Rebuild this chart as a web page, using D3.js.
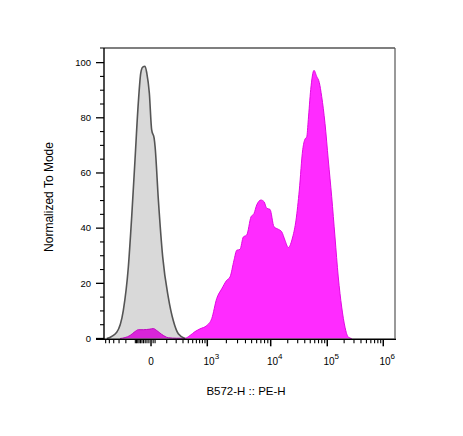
<!DOCTYPE html>
<html>
<head>
<meta charset="utf-8">
<script src="https://cdn.jsdelivr.net/npm/d3@7"></script>
<style>
  html, body { margin: 0; padding: 0; background: #fff; }
  svg { display: block; font-family: "Liberation Sans", Arial, sans-serif; }
</style>
</head>
<body>
<svg id="chart" width="463" height="436"></svg>
<script>
// ---- data (intensity, % of mode) ----
const controlX = [-569, -341, -234, -170, -134, -103, -76, -58, -45, -31, -21, -8, 3, 15, 20, 39, 68, 114, 165, 228, 335];
const controlY = [0, 2.3, 10.2, 25.9, 44.1, 64.7, 85.3, 96.2, 98.4, 98.7, 96.2, 89, 75.6, 72.6, 69.6, 50.2, 29.6, 15, 6.5, 1.7, 0];

const stainedX = [-284, -151, -103, -76, -41, -5, 11, 29, 61, 114, 207, 335, 437, 561, 714, 974,
  1174, 1408, 1688, 2024, 2281, 2638, 2911, 3281, 3698, 4183, 4892, 5454, 6016, 7034, 7843, 8650, 9750,
  11440, 13630, 15640, 17890, 20470, 24480, 28000, 32020, 36770, 40380, 43280, 46170, 50920, 58240,
  65010, 72260, 79660, 91130, 104260, 119900, 137300, 157200, 180900, 207300, 237300, 272900];
const stainedY = [0, 1.1, 2.5, 3.2, 3.2, 3.4, 3.6, 2.9, 1.5, 0.3, 0.1, 0.1, 1.1, 2.5, 3.5, 4.7,
  7.2, 14.5, 18, 21.1, 22.3, 28.4, 32, 32.3, 36.8, 37.5, 44.1, 45.3, 48.4, 50.2, 49.6, 47.2, 46.8,
  40.5, 39.6, 38.7, 35.6, 33, 36.8, 42.9, 53.8, 68.4, 72.3, 73, 79.3, 90.2, 97.2,
  95, 92.8, 87.7, 78, 64.7, 51.4, 36.8, 22.3, 11.4, 4.1, 0.5, 0];

const xMajorTicks = [0, 1e3, 1e4, 1e5, 1e6];
const xMajorLabels = [["0", ""], ["10", "3"], ["10", "4"], ["10", "5"], ["10", "6"]];
const xLinearMinor = [-600, -500, -400, -300, -200, -100, -90, -80, -70, -60, -50, -40, -30, -20, -10, 10, 20,
  100, 200, 300, 400, 500, 600, 700, 800, 900];
const xLogMinorMult = [2, 3, 4, 5, 6, 7, 8, 9];
const xLogMinorDecades = [1e3, 1e4, 1e5];
const yMajorTicks = [0, 20, 40, 60, 80, 100];
const yMinorStep = 5;
const xDomain = [-650, 1.62e6];
const yDomain = [0, 105.3];
const xTitle = "B572-H :: PE-H";
const yTitle = "Normalized To Mode";

// ---- biexponential-style display transform ----
const decadeAnchors = [[3, 1.005], [4, 2.1375], [5, 3.148], [6, 4.148]];
function biex(v) {
  const a = Math.abs(v);
  if (a < 1000) return Math.sign(v) * 1.005 * Math.log10(1 + 9 * a / 1000);
  const l = Math.log10(a);
  let i = 0;
  while (i < decadeAnchors.length - 2 && l > decadeAnchors[i + 1][0]) i++;
  const [l0, u0] = decadeAnchors[i], [l1, u1] = decadeAnchors[i + 1];
  return Math.sign(v) * (u0 + (l - l0) * (u1 - u0) / (l1 - l0));
}

const svg = d3.select("#chart");
const L = 104, R = 395, T = 48, B = 338.5;

const xs = d3.scaleLinear().domain(xDomain.map(biex)).range([L, R]);
const x = v => xs(biex(v));
const y = d3.scaleLinear().domain(yDomain).range([B, T]);

const area = d3.area().x(d => x(d[0])).y0(y(0)).y1(d => y(d[1])).curve(d3.curveMonotoneX);
const line = d3.line().x(d => x(d[0])).y(d => y(d[1])).curve(d3.curveMonotoneX);

const control = d3.zip(controlX, controlY);
const stained = d3.zip(stainedX, stainedY);

svg.append("defs").append("clipPath").attr("id", "clip")
  .append("rect").attr("x", L).attr("y", T).attr("width", R - L).attr("height", B - T + 1);

const g = svg.append("g").attr("clip-path", "url(#clip)");
g.append("path").datum(control).attr("d", area).attr("fill", "#d9d9d9");
g.append("path").datum(stained).attr("d", area).attr("fill", "#ff2bff").style("mix-blend-mode", "multiply");
g.append("path").datum(stained).attr("d", line).attr("fill", "none").attr("stroke", "#e010e0").attr("stroke-width", 1)
  .style("mix-blend-mode", "multiply");
g.append("path").datum(control).attr("d", line).attr("fill", "none").attr("stroke", "#555").attr("stroke-width", 1.6);

// frame
svg.append("line").attr("x1", L - 4).attr("x2", R).attr("y1", T).attr("y2", T).attr("stroke", "#000").attr("stroke-width", 1.2);
svg.append("line").attr("x1", R).attr("x2", R).attr("y1", T).attr("y2", B).attr("stroke", "#555").attr("stroke-width", 1.2);
svg.append("line").attr("x1", L).attr("x2", L).attr("y1", T).attr("y2", B + 1).attr("stroke", "#000").attr("stroke-width", 1.4);
svg.append("line").attr("x1", L - 8).attr("x2", R + 1).attr("y1", B + 0.8).attr("y2", B + 0.8).attr("stroke", "#000").attr("stroke-width", 1.4);

// y axis ticks
const yMinor = d3.range(yDomain[0], 100.001, yMinorStep).filter(v => !yMajorTicks.includes(v));
svg.append("g").selectAll("line").data(yMinor).join("line")
  .attr("x1", L - 4).attr("x2", L).attr("y1", d => y(d)).attr("y2", d => y(d))
  .attr("stroke", "#000").attr("stroke-width", 1.1);
svg.append("g").selectAll("line").data(yMajorTicks).join("line")
  .attr("x1", L - 8).attr("x2", L).attr("y1", d => y(d)).attr("y2", d => y(d))
  .attr("stroke", "#000").attr("stroke-width", 1.3);
svg.append("g").selectAll("text").data(yMajorTicks).join("text")
  .attr("x", L - 13).attr("y", d => y(d)).attr("dy", "0.35em")
  .attr("text-anchor", "end").attr("font-size", 9.5).attr("fill", "#000")
  .text(d => d);

// x axis ticks
const xLogMinor = xLogMinorDecades.flatMap(dd => xLogMinorMult.map(m => m * dd));
const xb = B + 0.8;
svg.append("g").selectAll("line").data(xLinearMinor.concat(xLogMinor)).join("line")
  .attr("x1", d => x(d)).attr("x2", d => x(d)).attr("y1", xb).attr("y2", xb + 4)
  .attr("stroke", "#000").attr("stroke-width", 1.1);
svg.append("g").selectAll("line").data(xMajorTicks).join("line")
  .attr("x1", d => x(d)).attr("x2", d => x(d)).attr("y1", xb).attr("y2", xb + 7)
  .attr("stroke", "#000").attr("stroke-width", 1.5);
const xl = svg.append("g").selectAll("text").data(xMajorTicks).join("text")
  .attr("x", (d, i) => x(d) + (xMajorLabels[i][1] ? 4 : 0)).attr("y", 365)
  .attr("text-anchor", "middle").attr("font-size", 10).attr("fill", "#000");
xl.append("tspan").text((d, i) => xMajorLabels[i][0]);
xl.append("tspan").attr("dy", -6).attr("font-size", 8).text((d, i) => xMajorLabels[i][1]);

// titles
svg.append("text").attr("x", 246).attr("y", 395).attr("text-anchor", "middle")
  .attr("font-size", 11.5).attr("fill", "#000").text(xTitle);
svg.append("text").attr("transform", "translate(53,197) rotate(-90)").attr("text-anchor", "middle")
  .attr("font-size", 12).attr("fill", "#000").text(yTitle);
</script>
</body>
</html>
